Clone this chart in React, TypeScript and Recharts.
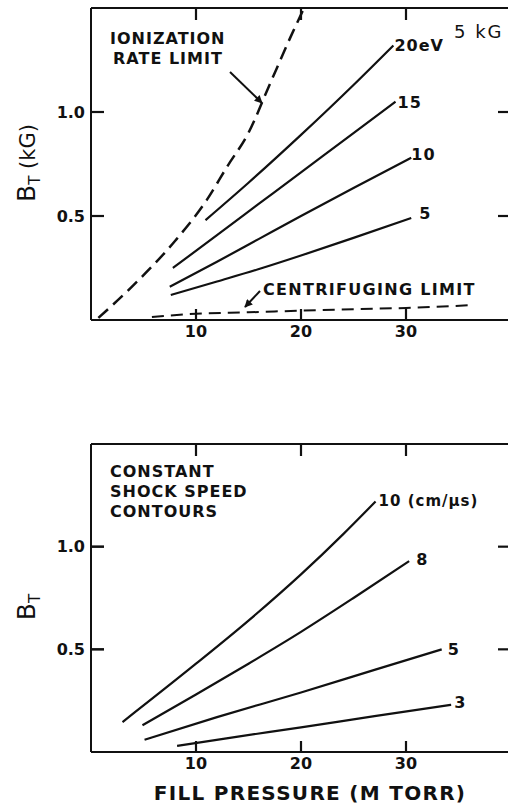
import React from 'react'
import { LineChart, Line, XAxis, YAxis, ReferenceLine } from 'recharts'

const FONT = '"DejaVu Sans", Verdana, sans-serif'
const INK = '#111'

// upper panel: B_T (kG) against fill pressure (mTorr), 5 kG
const ionP = [0.7, 4, 8, 11, 13, 15, 17, 19, 20.2]
const ionB = [0.01, 0.165, 0.38, 0.575, 0.74, 0.9, 1.13, 1.36, 1.49]
const centP = [5.8, 10, 15, 20, 25, 30, 36.5]
const centB = [0.015, 0.03, 0.037, 0.045, 0.052, 0.058, 0.072]

const ev20P = [10.9, 15, 20, 25, 28.8]
const ev20B = [0.48, 0.66, 0.89, 1.13, 1.32]
const ev15P = [7.8, 12, 16, 20, 25, 29]
const ev15B = [0.25, 0.408, 0.559, 0.71, 0.898, 1.05]
const ev10P = [7.5, 12, 16, 20, 25, 30.5]
const ev10B = [0.16, 0.28, 0.39, 0.5, 0.635, 0.78]
const ev5P = [7.6, 12, 16, 20, 25, 30.5]
const ev5B = [0.12, 0.185, 0.245, 0.31, 0.395, 0.49]

// lower panel: constant shock speed contours (cm/us)
const v10P = [3, 10, 15, 20, 24, 27.1]
const v10B = [0.146, 0.43, 0.64, 0.865, 1.06, 1.22]
const v8P = [4.9, 10, 15, 20, 25, 30.3]
const v8B = [0.13, 0.28, 0.43, 0.585, 0.75, 0.93]
const v5P = [5.1, 12, 20, 27, 33.4]
const v5B = [0.06, 0.17, 0.29, 0.4, 0.5]
const v3P = [8.2, 14, 20, 27, 34.3]
const v3B = [0.03, 0.075, 0.12, 0.175, 0.23]

const P_TICKS = [10, 20, 30]
const B_TICKS = [0.5, 1.0]
const P_MAX = 40
const B_MAX = 1.5

// layout of the two panels (page pixels)
const LEFT_W = 91
const PLOT_W = 420
const UPPER = { top: 8, plotH: 312, height: 350 }
const LOWER = { top: 44, plotH: 308, height: 408, offset: 400 }

const pts = (p: number[], b: number[]) => p.map((v, i) => ({ p: v, b: b[i] }))

const txt = { fontFamily: FONT, fill: INK }
const tickFont = { fontFamily: FONT, fill: INK, fontSize: 16, fontWeight: 'bold' }
const black = { stroke: INK, strokeWidth: 2 }

const endLabel = (text: string, n: number, dx: number, dy: number, size = 16) => (props: any) =>
  props.index === n - 1 ? (
    <text key={text} x={props.x + dx} y={props.y + dy} dominantBaseline="central" fontSize={size} fontWeight="bold" letterSpacing={1} {...txt}>
      {text}
    </text>
  ) : (
    <g key={`${text}-${props.index}`} />
  )

type Series = { data: { p: number; b: number }[]; dash?: string; width?: number; label?: any }

const Panel = ({ series, height, top }: { series: Series[]; height: number; top: number }) => (
  <LineChart width={LEFT_W + PLOT_W + 1} height={height} margin={{ top, right: 1, bottom: 0, left: 0 }}>
    <XAxis type="number" dataKey="p" domain={[0, P_MAX]} ticks={P_TICKS} height={height - top - (height === UPPER.height ? UPPER.plotH : LOWER.plotH)}
      interval={0} allowDataOverflow tickSize={-11} tickMargin={17} tickLine={black} axisLine={black} tick={tickFont} />
    <YAxis type="number" dataKey="b" domain={[0, B_MAX]} ticks={B_TICKS} width={LEFT_W} interval={0} allowDataOverflow
      tickSize={-13} tickMargin={19} tickLine={black} axisLine={black} tick={tickFont}
      tickFormatter={(v: number) => v.toFixed(1)} />
    <ReferenceLine y={B_MAX} stroke={INK} strokeWidth={2} />
    <ReferenceLine x={P_MAX} stroke={INK} strokeWidth={2} />
    {series.map((s, i) => (
      <Line key={`s${i}`} data={s.data} dataKey="b" type="monotone" stroke={INK}
        strokeWidth={s.width ?? 2.2} strokeDasharray={s.dash} dot={false} activeDot={false}
        isAnimationActive={false} label={s.label} />
    ))}
  </LineChart>
)

// inward tick marks on all four sides of a panel box, placed with the same linear mapping as the axes
const BoxTicks = ({ top, plotH }: { top: number; plotH: number }) => {
  const sx = (p: number) => LEFT_W + (p / P_MAX) * PLOT_W
  const sy = (b: number) => top + plotH * (1 - b / B_MAX)
  const right = sx(P_MAX)
  const bottom = sy(0)
  return (
    <g stroke={INK} strokeWidth={2.2}>
      {P_TICKS.map((t) => (
        <g key={`p${t}`}>
          <line x1={sx(t)} x2={sx(t)} y1={bottom} y2={bottom - 11} />
          <line x1={sx(t)} x2={sx(t)} y1={top} y2={top + 12} />
        </g>
      ))}
      {B_TICKS.map((t) => (
        <g key={`b${t}`}>
          <line x1={LEFT_W} x2={LEFT_W + 13} y1={sy(t)} y2={sy(t)} />
          <line x1={right} x2={right - 13} y1={sy(t)} y2={sy(t)} />
        </g>
      ))}
    </g>
  )
}

const upper: Series[] = [
  { data: pts(ionP, ionB), dash: '13 7', width: 2.5 },
  { data: pts(centP, centB), dash: '12 7', width: 2 },
  { data: pts(ev20P, ev20B), label: endLabel('20eV', ev20P.length, 1, 0) },
  { data: pts(ev15P, ev15B), label: endLabel('15', ev15P.length, 2, 1) },
  { data: pts(ev10P, ev10B), label: endLabel('10', ev10P.length, 0, -3) },
  { data: pts(ev5P, ev5B), label: endLabel('5', ev5P.length, 8, -5) },
]

const lower: Series[] = [
  { data: pts(v10P, v10B), label: endLabel('10 (cm/\u03bcs)', v10P.length, 3, 0, 15) },
  { data: pts(v8P, v8B), label: endLabel('8', v8P.length, 7, -2) },
  { data: pts(v5P, v5B), label: endLabel('5', v5P.length, 6, 0) },
  { data: pts(v3P, v3B), label: endLabel('3', v3P.length, 3, -2) },
]

export default function App() {
  const note = { fontSize: 16, fontWeight: 'bold' as const, letterSpacing: 1, dominantBaseline: 'central' as const, ...txt }
  return (
    <div style={{ position: 'absolute', left: 0, top: 0, width: 508, height: 808, overflow: 'hidden', background: '#fff' }}>
      <div style={{ position: 'absolute', left: 0, top: 0 }}>
        <Panel series={upper} height={UPPER.height} top={UPPER.top} />
      </div>
      <div style={{ position: 'absolute', left: 0, top: LOWER.offset }}>
        <Panel series={lower} height={LOWER.height} top={LOWER.top} />
      </div>
      <svg width={508} height={808} style={{ position: 'absolute', left: 0, top: 0, pointerEvents: 'none' }}>
        <defs>
          <marker id="ah" viewBox="0 0 10 10" refX="9" refY="5" markerWidth="11" markerHeight="8" orient="auto" markerUnits="userSpaceOnUse">
            <path d="M0,0 L10,5 L0,10 z" fill={INK} />
          </marker>
        </defs>
        <BoxTicks top={UPPER.top} plotH={UPPER.plotH} />
        <BoxTicks top={LOWER.offset + LOWER.top} plotH={LOWER.plotH} />

        <text x={110} y={38.5} {...note}>IONIZATION</text>
        <text x={113} y={58.5} {...note}>RATE LIMIT</text>
        <line x1={230} y1={72} x2={262} y2={103} stroke={INK} strokeWidth={2} markerEnd="url(#ah)" />
        <text x={454} y={31} fontSize={18} letterSpacing={2} dominantBaseline="central" {...txt}>5 kG</text>
        <text x={263} y={289} {...note} letterSpacing={1.3}>CENTRIFUGING LIMIT</text>
        <line x1={260} y1={291} x2={245} y2={307} stroke={INK} strokeWidth={2} markerEnd="url(#ah)" />
        <text transform="translate(35,163) rotate(-90)" textAnchor="middle" {...txt} fontSize={21}>
          <tspan fontSize={25}>B</tspan>
          <tspan fontSize={15} dy={5}>T</tspan>
          <tspan dy={-5}> (kG)</tspan>
        </text>

        <text x={110} y={471} {...note}>CONSTANT</text>
        <text x={110} y={491} {...note}>SHOCK SPEED</text>
        <text x={110} y={511} {...note}>CONTOURS</text>
        <text transform="translate(35,607) rotate(-90)" textAnchor="middle" {...txt}>
          <tspan fontSize={25}>B</tspan>
          <tspan fontSize={15} dy={5}>T</tspan>
        </text>
        <text x={310} y={793} textAnchor="middle" dominantBaseline="central" fontSize={20} fontWeight="bold" letterSpacing={1.3} {...txt}>
          FILL PRESSURE (M TORR)
        </text>
      </svg>
    </div>
  )
}
